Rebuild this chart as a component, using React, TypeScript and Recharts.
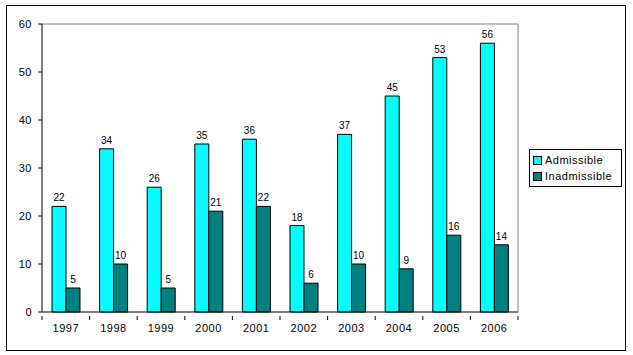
import { BarChart, Bar, XAxis, YAxis, LabelList, ReferenceLine } from 'recharts';

const years = ['1997', '1998', '1999', '2000', '2001', '2002', '2003', '2004', '2005', '2006'];
const admissible = [22, 34, 26, 35, 36, 18, 37, 45, 53, 56];
const inadmissible = [5, 10, 5, 21, 22, 6, 10, 9, 16, 14];
const yTicks = [0, 10, 20, 30, 40, 50, 60];

const CYAN = '#00ffff';
const TEAL = '#008080';
const FRAME = '#808080';
const FONT = 'Arial, "Liberation Sans", sans-serif';

const data = years.map((year, i) => ({ year, admissible: admissible[i], inadmissible: inadmissible[i] }));

// plot area layout
const PLOT_LEFT = 42;
const PLOT_TOP = 24;
const PLOT_W = 476;
const PLOT_H = 288;
const BAND = PLOT_W / years.length;

function YearTick(props: any) {
  const { x, y, payload, index } = props;
  const left = x - BAND / 2;
  const last = index === years.length - 1;
  return (
    <g>
      <line x1={left} y1={y - 4} x2={left} y2={y} stroke="#000" />
      {last && <line x1={x + BAND / 2} y1={y - 4} x2={x + BAND / 2} y2={y} stroke="#000" />}
      {/* right edge of the plot frame */}
      {last && <line x1={x + BAND / 2} y1={y - 8} x2={x + BAND / 2} y2={y - 8 - PLOT_H} stroke={FRAME} />}
      <text x={x} y={y + 12} textAnchor="middle" fontSize={11} fontFamily={FONT} fill="#000" letterSpacing={0.5}>
        {payload.value}
      </text>
    </g>
  );
}

function LegendBox() {
  const items = [
    { name: 'Admissible', color: CYAN },
    { name: 'Inadmissible', color: TEAL },
  ];
  return (
    <div style={{ position: 'absolute', left: 529, top: 149, border: '1px solid #000', width: 91, height: 36, background: '#fff', fontFamily: FONT, fontSize: 11, letterSpacing: 0.5 }}>
      {items.map((it, i) => (
        <div key={it.name} style={{ display: 'flex', alignItems: 'center', height: 16, marginTop: i === 0 ? 2 : 0, paddingLeft: 3 }}>
          <span style={{ display: 'inline-block', width: 7, height: 7, border: '1px solid #000', background: it.color, marginRight: 3 }} />
          <span>{it.name}</span>
        </div>
      ))}
    </div>
  );
}

export default function App() {
  return (
    <div style={{ position: 'absolute', left: 0, top: 0, width: 633, height: 355, background: '#fff' }}>
      <div style={{ position: 'absolute', left: 6, top: 5, width: 618, height: 344, border: '1px solid #000' }} />
      <div style={{ position: 'absolute', left: 0, top: 0 }}>
        <BarChart width={633} height={355} data={data} margin={{ top: PLOT_TOP, right: 633 - PLOT_LEFT - PLOT_W, left: 0, bottom: 0 }} barGap={0} barCategoryGap="20%">
          <ReferenceLine y={60} stroke={FRAME} strokeWidth={1} />
          <XAxis dataKey="year" height={355 - PLOT_TOP - PLOT_H} tickLine={false} axisLine={{ stroke: '#000' }} tick={<YearTick />} interval={0} />
          <YAxis
            width={PLOT_LEFT}
            domain={[0, 60]}
            ticks={yTicks}
            tickSize={4}
            tickMargin={6}
            tickLine={{ stroke: '#000' }}
            axisLine={{ stroke: '#000' }}
            tick={{ fontSize: 11, fontFamily: FONT, fill: '#000', letterSpacing: 0.5 }}
            interval={0}
          />
          <Bar dataKey="admissible" name="Admissible" fill={CYAN} stroke="#000" barSize={14} isAnimationActive={false}>
            <LabelList dataKey="admissible" position="top" offset={5} fontSize={10} fontFamily={FONT} fill="#000" />
          </Bar>
          <Bar dataKey="inadmissible" name="Inadmissible" fill={TEAL} stroke="#000" barSize={14} isAnimationActive={false}>
            <LabelList dataKey="inadmissible" position="top" offset={5} fontSize={10} fontFamily={FONT} fill="#000" />
          </Bar>
        </BarChart>
      </div>
      <LegendBox />
    </div>
  );
}
